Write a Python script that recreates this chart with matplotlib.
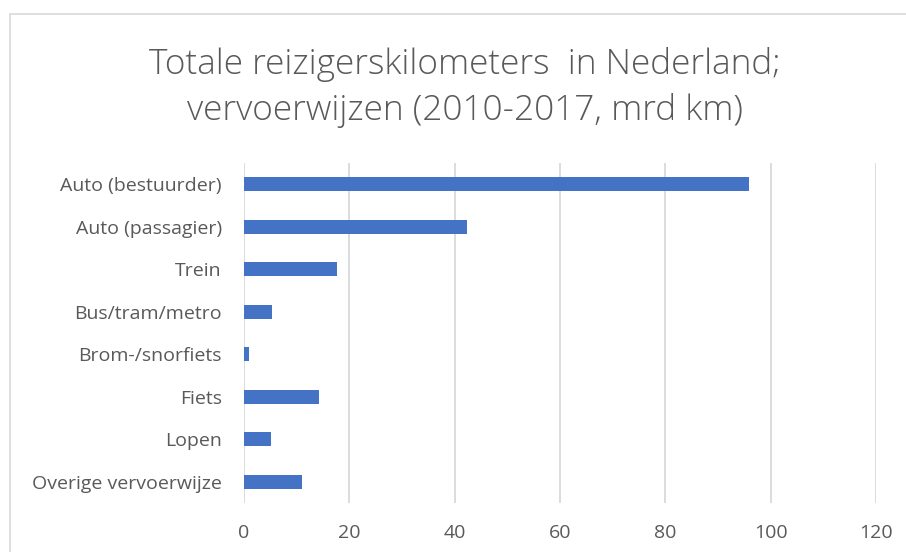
import matplotlib.pyplot as plt
from matplotlib.patches import Rectangle

# data
categories = ["Auto (bestuurder)", "Auto (passagier)", "Trein", "Bus/tram/metro",
              "Brom-/snorfiets", "Fiets", "Lopen", "Overige vervoerwijze"]
values = [95.9, 42.4, 17.6, 5.3, 0.9, 14.3, 5.1, 11.1]
xticks = [0, 20, 40, 60, 80, 100, 120]

bar_color = "#4472C4"
text_color = "#595959"
grid_color = "#D9D9D9"

plt.rcParams['font.family'] = ['Open Sans', 'DejaVu Sans']

fig = plt.figure(figsize=(9.06, 5.52), dpi=100)
ax = fig.add_axes([0.2693, 0.0888, 0.6976, 0.6159])

# chart border (Excel style)
fig.patches.append(Rectangle((10 / 906, -0.1), 1.2, 1 - 14 / 552 + 0.1,
                             transform=fig.transFigure, fill=False,
                             edgecolor="#D9D9D9", linewidth=1.2))

y = list(range(len(categories)))
ax.barh(y, values, height=0.34, color=bar_color, zorder=3)
ax.set_ylim(len(categories) - 0.5, -0.5)
ax.set_xlim(0, 120)
ax.set_xticks(xticks)
ax.set_yticks(y)
ax.set_yticklabels(categories)

ax.grid(axis='x', color=grid_color, linewidth=1.3, zorder=0)
for s in ax.spines.values():
    s.set_visible(False)
ax.tick_params(length=0, colors=text_color, labelsize=14)
ax.tick_params(axis='x', pad=15)
ax.tick_params(axis='y', pad=16)

fig.text(0.513, 0.842, "Totale reizigerskilometers  in Nederland;\nvervoerwijzen (2010-2017, mrd km)",
         ha='center', va='center', fontsize=25.4, color=text_color, fontweight='light',
         linespacing=1.42)

fig.savefig("out.png", dpi=100)
